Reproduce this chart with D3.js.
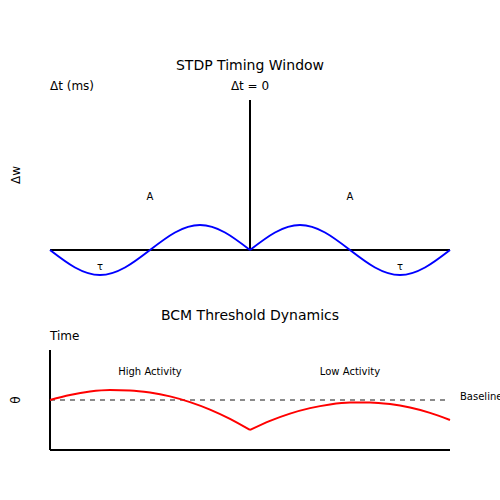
<!DOCTYPE html>
<html>
<head>
<meta charset="utf-8">
<script src="https://cdn.jsdelivr.net/npm/d3@7"></script>
<style>
  body { margin: 0; background: #fff; }
  text { font-family: "DejaVu Sans", sans-serif; fill: #000; }
</style>
</head>
<body>
<div id="chart"></div>
<script>
// STDP window (dt in ms, dw in arbitrary units)
var stdpDt = [-100, -87.5, -75, -62.5, -50, -37.5, -25, -12.5, 0];
var stdpLeft = [0, -0.35, -0.5, -0.35, 0, 0.35, 0.5, 0.35, 0];
var stdpDtRight = [0, 12.5, 25, 37.5, 50, 62.5, 75, 87.5, 100];
var stdpRight = [0, 0.35, 0.5, 0.35, 0, -0.35, -0.5, -0.35, 0];

// BCM threshold over time
var bcmTime = [0, 5, 10, 15, 20, 25, 30, 35, 40, 45, 50];
var bcmHigh = [0, 0.5, 0.84, 0.99, 0.96, 0.75, 0.36, -0.21, -0.96, -1.89, -3.0];
var bcmTime2 = [50, 55, 60, 65, 70, 75, 80, 85, 90, 95, 100];
var bcmLow = [-3.0, -2.09, -1.36, -0.81, -0.44, -0.25, -0.24, -0.41, -0.76, -1.29, -2.0];

var stdpLabels = [{x: -50, y: 1.0, t: "A"}, {x: 50, y: 1.0, t: "A"},
                  {x: -75, y: -0.4, t: "τ"}, {x: 75, y: -0.4, t: "τ"}];
var bcmLabels = [{x: 25, y: 2.5, t: "High Activity"}, {x: 75, y: 2.5, t: "Low Activity"}];

var width = 500, height = 500;

var svg = d3.select("#chart")
  .append("svg")
  .attr("width", width)
  .attr("height", height);

// ---- top panel ----
var x1 = d3.scaleLinear().domain([-100, 100]).range([50, 450]);
var y1 = d3.scaleLinear().domain([-0.5, 3]).range([275, 100]);

svg.append("text")
  .attr("x", 250).attr("y", 70)
  .style("text-anchor", "middle").style("font-size", "14px")
  .text("STDP Timing Window");

svg.append("text")
  .attr("x", 50).attr("y", 90)
  .style("font-size", "12px")
  .text("Δt (ms)");

svg.append("text")
  .attr("x", 250).attr("y", 90)
  .style("text-anchor", "middle").style("font-size", "12px")
  .text("Δt = 0");

svg.append("text")
  .attr("transform", "translate(20,175) rotate(-90)")
  .style("text-anchor", "middle").style("font-size", "12px")
  .text("Δw");

svg.append("line")
  .attr("x1", x1(-100)).attr("x2", x1(100))
  .attr("y1", y1(0)).attr("y2", y1(0))
  .attr("stroke", "black").attr("stroke-width", 2);

svg.append("line")
  .attr("x1", x1(0)).attr("x2", x1(0))
  .attr("y1", y1(0)).attr("y2", y1(3))
  .attr("stroke", "black").attr("stroke-width", 2);

var stdpLine = d3.line()
  .x(function (d) { return x1(d[0]); })
  .y(function (d) { return y1(d[1]); })
  .curve(d3.curveNatural);

[d3.zip(stdpDt, stdpLeft), d3.zip(stdpDtRight, stdpRight)].forEach(function (pts) {
  svg.append("path")
    .attr("d", stdpLine(pts))
    .attr("fill", "none")
    .attr("stroke", "blue")
    .attr("stroke-width", 2);
});

svg.selectAll(".stdp-lab")
  .data(stdpLabels)
  .enter().append("text")
  .attr("class", "stdp-lab")
  .attr("x", function (d) { return x1(d.x); })
  .attr("y", function (d) { return y1(d.y); })
  .style("text-anchor", "middle").style("font-size", "10px")
  .text(function (d) { return d.t; });

// ---- bottom panel ----
var x2 = d3.scaleLinear().domain([0, 100]).range([50, 450]);
var y2 = d3.scaleLinear().domain([-5, 5]).range([450, 350]);

svg.append("text")
  .attr("x", 250).attr("y", 320)
  .style("text-anchor", "middle").style("font-size", "14px")
  .text("BCM Threshold Dynamics");

svg.append("text")
  .attr("x", 50).attr("y", 340)
  .style("font-size", "12px")
  .text("Time");

svg.append("text")
  .attr("transform", "translate(20,400) rotate(-90)")
  .style("text-anchor", "middle").style("font-size", "12px")
  .text("θ");

svg.append("line")
  .attr("x1", x2(0)).attr("x2", x2(0))
  .attr("y1", y2(-5)).attr("y2", y2(5))
  .attr("stroke", "black").attr("stroke-width", 2);

svg.append("line")
  .attr("x1", x2(0)).attr("x2", x2(100))
  .attr("y1", y2(-5)).attr("y2", y2(-5))
  .attr("stroke", "black").attr("stroke-width", 2);

svg.append("line")
  .attr("x1", x2(0)).attr("x2", x2(100))
  .attr("y1", y2(0)).attr("y2", y2(0))
  .attr("stroke", "#666").attr("stroke-width", 1.5)
  .attr("stroke-dasharray", "5,5");

svg.append("text")
  .attr("x", 460).attr("y", y2(0) - 0.5)
  .style("font-size", "10px")
  .text("Baseline");

var bcmLine = d3.line()
  .x(function (d) { return x2(d[0]); })
  .y(function (d) { return y2(d[1]); })
  .curve(d3.curveMonotoneX);

[d3.zip(bcmTime, bcmHigh), d3.zip(bcmTime2, bcmLow)].forEach(function (pts) {
  svg.append("path")
    .attr("d", bcmLine(pts))
    .attr("fill", "none")
    .attr("stroke", "red")
    .attr("stroke-width", 2);
});

svg.selectAll(".bcm-lab")
  .data(bcmLabels)
  .enter().append("text")
  .attr("class", "bcm-lab")
  .attr("x", function (d) { return x2(d.x); })
  .attr("y", function (d) { return y2(d.y); })
  .style("text-anchor", "middle").style("font-size", "10px")
  .text(function (d) { return d.t; });
</script>
</body>
</html>
